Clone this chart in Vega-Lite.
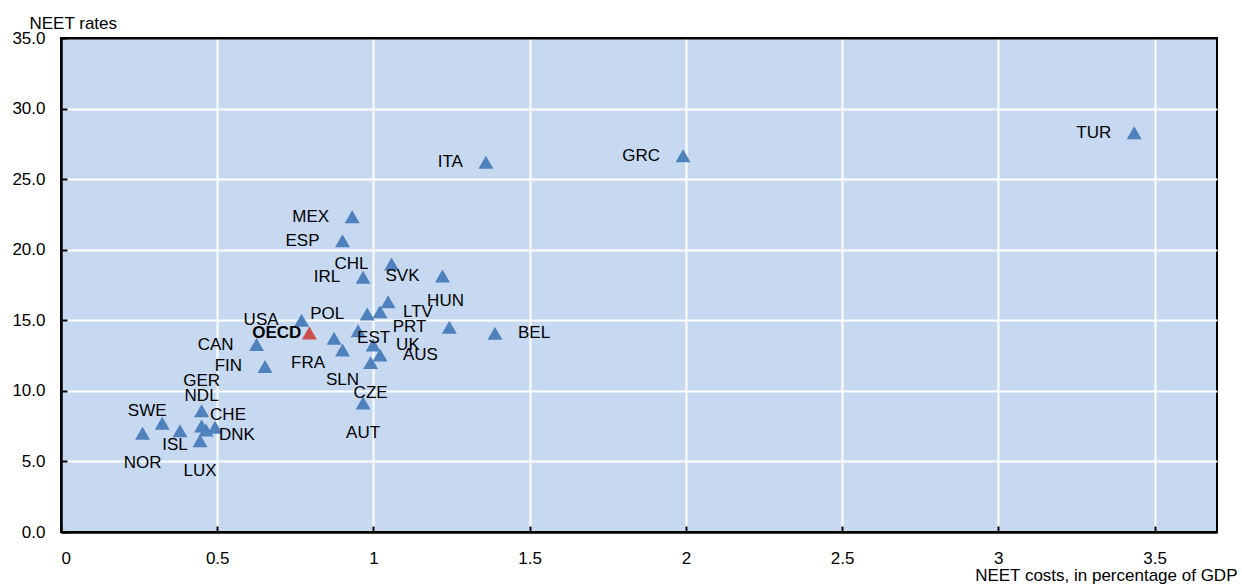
{
  "$schema": "https://vega.github.io/schema/vega-lite/v6.json",
  "width": 1156,
  "height": 494,
  "autosize": {"type": "none"},
  "padding": {"left": 61, "top": 38, "right": 25, "bottom": 53},
  "background": "white",
  "config": {
    "view": {"fill": "#C6D9F1", "stroke": "#000000", "strokeWidth": 2},
    "font": "Liberation Sans",
    "text": {"font": "Liberation Sans", "fontSize": 17},
    "axis": {
      "labelFont": "Liberation Sans",
      "labelFontSize": 17,
      "labelColor": "#000000",
      "titleFont": "Liberation Sans",
      "titleFontSize": 17,
      "titleFontWeight": "normal",
      "titleColor": "#000000",
      "domainColor": "#000000",
      "domainWidth": 2,
      "tickColor": "#000000",
      "tickWidth": 2,
      "tickSize": -6,
      "gridWidth": 2
    }
  },
  "data": {
    "values": [
      {"country": "TUR", "cost": 3.435, "rate": 28.28},
      {"country": "GRC", "cost": 1.991, "rate": 26.66},
      {"country": "ITA", "cost": 1.36, "rate": 26.19},
      {"country": "MEX", "cost": 0.932, "rate": 22.34},
      {"country": "ESP", "cost": 0.901, "rate": 20.64},
      {"country": "CHL", "cost": 1.058, "rate": 18.99},
      {"country": "IRL", "cost": 0.967, "rate": 18.05},
      {"country": "SVK", "cost": 1.221, "rate": 18.14},
      {"country": "HUN", "cost": 1.047, "rate": 16.32},
      {"country": "LTV", "cost": 1.021, "rate": 15.61},
      {"country": "POL", "cost": 0.98, "rate": 15.45},
      {"country": "USA", "cost": 0.77, "rate": 15.0},
      {"country": "FRA", "cost": 0.951, "rate": 14.26},
      {"country": "EST", "cost": 0.874, "rate": 13.72},
      {"country": "UK", "cost": 0.999, "rate": 13.25},
      {"country": "SLN", "cost": 0.901, "rate": 12.9},
      {"country": "AUS", "cost": 1.021, "rate": 12.54},
      {"country": "CZE", "cost": 0.991, "rate": 12.0},
      {"country": "PRT", "cost": 1.243, "rate": 14.5},
      {"country": "BEL", "cost": 1.389, "rate": 14.08},
      {"country": "CAN", "cost": 0.626, "rate": 13.28},
      {"country": "FIN", "cost": 0.653, "rate": 11.73},
      {"country": "AUT", "cost": 0.967, "rate": 9.14},
      {"country": "GER", "cost": 0.45, "rate": 8.59},
      {"country": "NDL", "cost": 0.45, "rate": 7.51},
      {"country": "DNK", "cost": 0.464, "rate": 7.23},
      {"country": "CHE", "cost": 0.493, "rate": 7.42},
      {"country": "SWE", "cost": 0.324, "rate": 7.7},
      {"country": "ISL", "cost": 0.381, "rate": 7.18},
      {"country": "NOR", "cost": 0.261, "rate": 6.99},
      {"country": "LUX", "cost": 0.445, "rate": 6.47},
      {"country": "OECD", "cost": 0.795, "rate": 14.1}
    ]
  },
  "encoding": {
    "x": {
      "field": "cost",
      "type": "quantitative",
      "scale": {"domain": [0, 3.7], "nice": false, "zero": false},
      "axis": {
        "values": [0, 0.5, 1, 1.5, 2, 2.5, 3, 3.5],
        "format": "~g",
        "labelPadding": 24,
        "title": "NEET costs, in percentage of GDP",
        "titleAnchor": "end",
        "titleAlign": "right",
        "titleBaseline": "middle",
        "titleX": 1176,
        "titleY": 43,
        "gridColor": {"condition": {"test": "datum.value === 0", "value": "#000000"}, "value": "#FFFFFF"}
      }
    },
    "y": {
      "field": "rate",
      "type": "quantitative",
      "scale": {"domain": [0, 35], "nice": false},
      "axis": {
        "values": [0, 5, 10, 15, 20, 25, 30, 35],
        "format": ".1f",
        "labelPadding": 22,
        "title": "NEET rates",
        "titleAngle": 0,
        "titleAlign": "left",
        "titleBaseline": "middle",
        "titleX": -32,
        "titleY": -15,
        "gridColor": {"condition": {"test": "datum.value === 0 || datum.value === 35", "value": "#000000"}, "value": "#FFFFFF"}
      }
    }
  },
  "layer": [
    {
      "mark": {"type": "point", "shape": "triangle-up", "filled": true, "size": 225, "opacity": 1},
      "encoding": {
        "color": {"condition": {"test": "datum.country === 'OECD'", "value": "#CD4F4B"}, "value": "#4F81BD"}
      }
    },
    {
      "transform": [{"filter": {"field": "country", "oneOf": ["TUR", "GRC", "ITA", "MEX", "ESP", "CHL", "IRL", "SVK", "PRT", "POL", "USA", "CAN", "FIN"]}}],
      "mark": {"type": "text", "align": "right", "baseline": "middle", "dx": -23, "color": "#000000"},
      "encoding": {"text": {"field": "country"}}
    },
    {
      "transform": [{"filter": {"field": "country", "oneOf": ["BEL", "LTV", "EST", "UK", "AUS"]}}],
      "mark": {"type": "text", "align": "left", "baseline": "middle", "dx": 23, "color": "#000000"},
      "encoding": {"text": {"field": "country"}}
    },
    {
      "transform": [{"filter": {"field": "country", "oneOf": ["HUN"]}}],
      "mark": {"type": "text", "align": "left", "baseline": "middle", "dx": 39, "dy": -1, "color": "#000000"},
      "encoding": {"text": {"field": "country"}}
    },
    {
      "transform": [{"filter": {"field": "country", "oneOf": ["NOR", "LUX", "SLN", "CZE", "AUT"]}}],
      "mark": {"type": "text", "align": "center", "baseline": "middle", "dy": 30, "color": "#000000"},
      "encoding": {"text": {"field": "country"}}
    },
    {
      "transform": [{"filter": {"field": "country", "oneOf": ["GER", "NDL"]}}],
      "mark": {"type": "text", "align": "center", "baseline": "middle", "dy": -30, "color": "#000000"},
      "encoding": {"text": {"field": "country"}}
    },
    {
      "transform": [{"filter": {"field": "country", "oneOf": ["SWE"]}}],
      "mark": {"type": "text", "align": "center", "baseline": "middle", "dx": -15, "dy": -12, "color": "#000000"},
      "encoding": {"text": {"field": "country"}}
    },
    {
      "transform": [{"filter": {"field": "country", "oneOf": ["CHE"]}}],
      "mark": {"type": "text", "align": "center", "baseline": "middle", "dx": 13, "dy": -12, "color": "#000000"},
      "encoding": {"text": {"field": "country"}}
    },
    {
      "transform": [{"filter": {"field": "country", "oneOf": ["ISL"]}}],
      "mark": {"type": "text", "align": "center", "baseline": "middle", "dx": -5, "dy": 14, "color": "#000000"},
      "encoding": {"text": {"field": "country"}}
    },
    {
      "transform": [{"filter": {"field": "country", "oneOf": ["DNK"]}}],
      "mark": {"type": "text", "align": "left", "baseline": "middle", "dx": 13, "dy": 5, "color": "#000000"},
      "encoding": {"text": {"field": "country"}}
    },
    {
      "transform": [{"filter": {"field": "country", "oneOf": ["FRA"]}}],
      "mark": {"type": "text", "align": "right", "baseline": "middle", "dx": -33, "dy": 32, "color": "#000000"},
      "encoding": {"text": {"field": "country"}}
    },
    {
      "transform": [{"filter": {"field": "country", "oneOf": ["OECD"]}}],
      "mark": {"type": "text", "align": "right", "baseline": "middle", "dx": -8, "fontWeight": "bold", "color": "#000000"},
      "encoding": {"text": {"field": "country"}}
    }
  ]
}
